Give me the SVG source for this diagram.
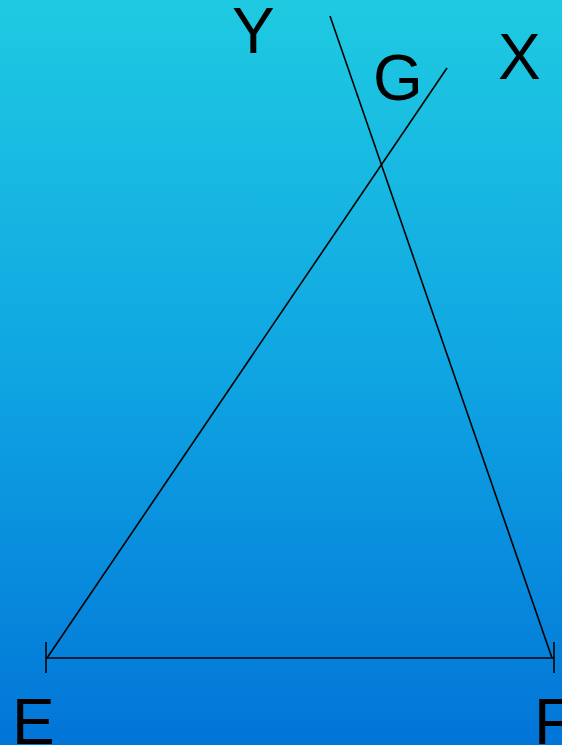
<svg xmlns="http://www.w3.org/2000/svg" width="562" height="745" viewBox="0 0 562 745">
<defs>
<linearGradient id="bg" x1="0" y1="0" x2="0" y2="1">
<stop offset="0" stop-color="#1fcae1"/>
<stop offset="0.5" stop-color="#0fa5e2"/>
<stop offset="1" stop-color="#0275d8"/>
</linearGradient>
<style>
.l{stroke:#000;stroke-width:1.6;fill:none}
.t{font-family:"Liberation Sans",Arial,sans-serif;font-size:64px;fill:#000}
</style>
</defs>
<rect width="562" height="745" fill="url(#bg)"/>
<g id="connectors">
<line class="l" x1="46" y1="658" x2="554" y2="658"/>
<line class="l" x1="46" y1="642" x2="46" y2="673"/>
<line class="l" x1="554" y1="642" x2="554" y2="673"/>
<line class="l" x1="47" y1="658" x2="447" y2="68"/>
<line class="l" x1="330" y1="16" x2="552" y2="658"/>
</g>
<g id="E"><text class="t" x="12" y="744">E</text></g>
<g id="F"><text class="t" x="534" y="744">F</text></g>
<g id="Y"><text class="t" x="232" y="53">Y</text></g>
<g id="G"><text class="t" x="373" y="100">G</text></g>
<g id="X"><text class="t" x="498" y="79">X</text></g>
</svg>
